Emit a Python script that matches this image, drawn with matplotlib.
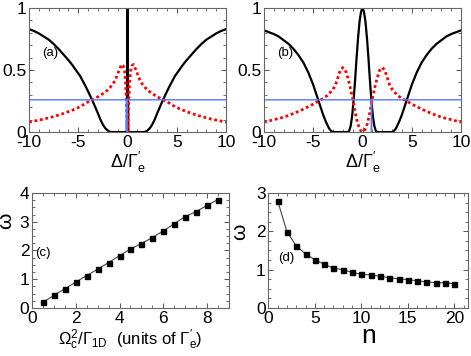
import numpy as np
import matplotlib
matplotlib.use('Agg')
from matplotlib import pyplot as plt
from matplotlib.ticker import MultipleLocator, FuncFormatter

plt.rcParams['font.family'] = ['Liberation Sans', 'DejaVu Sans']
plt.rcParams['mathtext.fontset'] = 'custom'
plt.rcParams['mathtext.rm'] = 'Liberation Sans'
plt.rcParams['mathtext.it'] = 'Liberation Sans'
plt.rcParams['mathtext.bf'] = 'Liberation Sans:bold'
plt.rcParams['axes.unicode_minus'] = False

# panel (a): detuning vs transmission / reflection
a_black_x = [-10, -9.5, -9, -8.5, -8, -7.5, -7, -6.5, -6, -5.6, -5.2, -4.8, -4.5, -4.2, -3.9, -3.6,
             -3.3, -3.0, -2.75, -2.5, -2.25, -2.0, -1.85, -1.6, -0.08, -0.04, 0, 0.04, 0.08,
             1.6, 1.85, 2.0, 2.25, 2.5, 2.75, 3.0, 3.3, 3.6, 3.9, 4.2, 4.5, 4.8, 5.2, 5.6, 6,
             6.5, 7, 7.5, 8, 8.5, 9, 9.5, 10]
a_black_y = [0.83, 0.815, 0.795, 0.77, 0.745, 0.71, 0.67, 0.625, 0.58, 0.54, 0.495, 0.45, 0.405,
             0.36, 0.31, 0.26, 0.205, 0.15, 0.10, 0.06, 0.03, 0.012, 0.004, 0.0, 0.0, 0.5, 1.0,
             0.5, 0.0, 0.0, 0.004, 0.012, 0.03, 0.06, 0.10, 0.15, 0.205, 0.26, 0.31, 0.36,
             0.405, 0.45, 0.495, 0.54, 0.58, 0.625, 0.67, 0.71, 0.745, 0.77, 0.795, 0.815, 0.83]
a_red_x = [-10, -8.5, -7.5, -6.5, -5.5, -4.8, -4.2, -3.6, -3.0, -2.5, -2.0, -1.5, -1.25, -1.0,
           -0.8, -0.6, -0.45, -0.3, -0.2, -0.1, -0.05, 0, 0.05, 0.1, 0.2, 0.3, 0.45, 0.6, 0.8,
           1.0, 1.25, 1.5, 2.0, 2.5, 3.0, 3.6, 4.2, 4.8, 5.5, 6.5, 7.5, 8.5, 10]
a_red_y = [0.08, 0.105, 0.125, 0.15, 0.18, 0.205, 0.235, 0.26, 0.285, 0.31, 0.34, 0.385, 0.42,
           0.47, 0.51, 0.545, 0.535, 0.49, 0.40, 0.22, 0.1, 0.0, 0.1, 0.22, 0.40, 0.49, 0.535,
           0.545, 0.51, 0.47, 0.42, 0.385, 0.34, 0.31, 0.285, 0.26, 0.235, 0.205, 0.18, 0.15,
           0.125, 0.105, 0.08]
a_blue_x = [-10, -0.07, -0.06, -0.04, -0.03, 10]
a_blue_y = [0.26, 0.26, 0.0, 0.0, 0.26, 0.26]

# panel (b)
b_black_x = [-10, -9.5, -9, -8.5, -8, -7.5, -7, -6.5, -6, -5.5, -5, -4.5, -4, -3.7, -3.4, -3.2,
             -3.0, -1.5, -1.35, -1.2, -1.05, -0.9, -0.75, -0.6, -0.45, -0.3, -0.15, 0, 0.15,
             0.3, 0.45, 0.6, 0.75, 0.9, 1.05, 1.2, 1.35, 1.5, 3.0, 3.2, 3.4, 3.7, 4, 4.5, 5,
             5.5, 6, 6.5, 7, 7.5, 8, 8.5, 9, 9.5, 10]
b_black_y = [0.82, 0.805, 0.79, 0.77, 0.74, 0.71, 0.67, 0.62, 0.56, 0.48, 0.38, 0.26, 0.14,
             0.08, 0.03, 0.01, 0.0, 0.0, 0.01, 0.05, 0.13, 0.26, 0.42, 0.60, 0.76, 0.89, 0.97,
             1.0, 0.97, 0.89, 0.76, 0.60, 0.42, 0.26, 0.13, 0.05, 0.01, 0.0, 0.0, 0.01, 0.03,
             0.08, 0.14, 0.26, 0.38, 0.48, 0.56, 0.62, 0.67, 0.71, 0.74, 0.77, 0.79, 0.805, 0.82]
b_red_x = [-10, -9, -8, -7, -6, -5, -4.5, -4, -3.5, -3, -2.75, -2.5, -2.25, -2, -1.75, -1.5,
           -1.25, -1, -0.75, -0.5, -0.25, 0, 0.25, 0.5, 0.75, 1, 1.25, 1.5, 1.75, 2, 2.25,
           2.5, 2.75, 3, 3.5, 4, 4.5, 5, 6, 7, 8, 9, 10]
b_red_y = [0.08, 0.10, 0.12, 0.15, 0.185, 0.225, 0.25, 0.27, 0.30, 0.345, 0.38, 0.44, 0.50,
           0.52, 0.50, 0.44, 0.36, 0.27, 0.16, 0.07, 0.02, 0.0, 0.02, 0.07, 0.16, 0.27, 0.36,
           0.44, 0.50, 0.52, 0.50, 0.44, 0.38, 0.345, 0.30, 0.27, 0.25, 0.225, 0.185, 0.15,
           0.12, 0.10, 0.08]
b_blue_x = [-10, 0.88, 0.9, 0.92, 0.94, 10]
b_blue_y = [0.26, 0.26, 0.0, 0.0, 0.26, 0.26]

# panel (c)
c_x = [0.5, 1, 1.5, 2, 2.5, 3, 3.5, 4, 4.5, 5, 5.5, 6, 6.5, 7, 7.5, 8, 8.5]
c_w = [0.20, 0.44, 0.67, 0.90, 1.13, 1.35, 1.58, 1.82, 2.05, 2.24, 2.45, 2.68, 2.93, 3.18,
       3.35, 3.57, 3.77]

# panel (d)
d_n = list(range(1, 21))
d_w = [2.80, 1.99, 1.62, 1.41, 1.26, 1.14, 1.04, 1.00, 0.93, 0.88, 0.86, 0.83, 0.79, 0.76,
       0.74, 0.71, 0.68, 0.66, 0.66, 0.63]

blue = '#5577ff'

fig = plt.figure(figsize=(4.71, 3.56), dpi=100)
ax_a = fig.add_axes([0.0616, 0.629, 0.4184, 0.3485])
ax_b = fig.add_axes([0.5605, 0.629, 0.4183, 0.3485])
ax_c = fig.add_axes([0.068, 0.1348, 0.418, 0.3232])
ax_d = fig.add_axes([0.5697, 0.1348, 0.4246, 0.3232])


def style(ax):
    ax.tick_params(which='both', direction='in', top=True, right=True, labelsize=12.5,
                   pad=2, color='#555555')
    ax.tick_params(which='major', length=3.5, width=0.7)
    ax.tick_params(which='minor', length=2, width=0.6)
    for s in ax.spines.values():
        s.set_color('#666666')
        s.set_linewidth(0.8)


for ax, bx, by, rx, ry, ux, uy, lab in [
        (ax_a, a_black_x, a_black_y, a_red_x, a_red_y, a_blue_x, a_blue_y, '(a)'),
        (ax_b, b_black_x, b_black_y, b_red_x, b_red_y, b_blue_x, b_blue_y, '(b)')]:
    ax.plot(bx, by, color='black', lw=1.6)
    ax.plot(rx, ry, color='red', lw=2.0, linestyle=(0, (1, 1)))
    ax.plot(ux, uy, color=blue, lw=1.0)
    ax.set_xlim(-10, 10)
    ax.set_ylim(0, 1)
    ax.xaxis.set_major_locator(MultipleLocator(5))
    ax.xaxis.set_minor_locator(MultipleLocator(1))
    ax.yaxis.set_major_locator(MultipleLocator(0.5))
    ax.yaxis.set_minor_locator(MultipleLocator(0.1))
    ax.yaxis.set_major_formatter(FuncFormatter(lambda v, p: '%g' % v))
    ax.set_xlabel(r'$\Delta/\Gamma^{\prime}_{e}$', fontsize=13, labelpad=0)
    ax.text(-8.7, 0.64, lab, fontsize=9.5, va='center')
    style(ax)

ax_c.plot(c_x, c_w, color='#444444', lw=0.8, marker='s', ms=3.6, mfc='black', mec='black')
ax_c.set_xlim(0, 9)
ax_c.set_ylim(0, 4)
ax_c.xaxis.set_major_locator(MultipleLocator(2))
ax_c.xaxis.set_minor_locator(MultipleLocator(0.5))
ax_c.yaxis.set_major_locator(MultipleLocator(1))
ax_c.yaxis.set_minor_locator(MultipleLocator(0.25))
ax_c.set_xlabel(r'$\Omega^{2}_{c}/\Gamma_{1D}$  (units of $\Gamma^{\prime}_{e}$)', fontsize=12,
                labelpad=1)
ax_c.set_ylabel(r'$\omega$', fontsize=15)
ax_c.yaxis.set_label_coords(-0.08, 0.75)
ax_c.text(0.15, 1.9, '(c)', fontsize=9.5, va='center')
style(ax_c)

ax_d.plot(d_n, d_w, color='#444444', lw=0.8, marker='s', ms=3.6, mfc='black', mec='black')
ax_d.set_xlim(0, 21.5)
ax_d.set_ylim(0, 3)
ax_d.xaxis.set_major_locator(MultipleLocator(5))
ax_d.xaxis.set_minor_locator(MultipleLocator(1))
ax_d.yaxis.set_major_locator(MultipleLocator(1))
ax_d.yaxis.set_minor_locator(MultipleLocator(0.25))
ax_d.set_xlabel('n', fontsize=19, labelpad=-1)
ax_d.set_ylabel(r'$\omega$', fontsize=15)
ax_d.yaxis.set_label_coords(-0.092, 0.66)
ax_d.text(1.1, 1.3, '(d)', fontsize=9.5, va='center')
style(ax_d)

fig.savefig('out.png', dpi=100)
